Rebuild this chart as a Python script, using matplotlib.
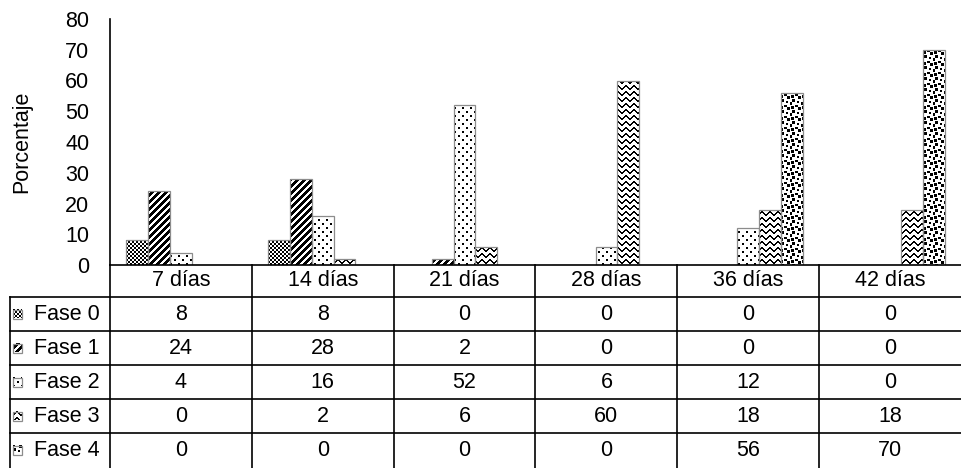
import matplotlib
matplotlib.use("Agg")
import matplotlib.pyplot as plt
import numpy as np
from matplotlib.path import Path
from matplotlib.patches import Rectangle

plt.rcParams.update({"font.family": ["Liberation Sans", "DejaVu Sans"], "font.size": 15.5})

categories = ["7 días", "14 días", "21 días", "28 días", "36 días", "42 días"]
series = ["Fase 0", "Fase 1", "Fase 2", "Fase 3", "Fase 4"]
fase0 = [8, 8, 0, 0, 0, 0]
fase1 = [24, 28, 2, 0, 0, 0]
fase2 = [4, 16, 52, 6, 12, 0]
fase3 = [0, 2, 6, 60, 18, 18]
fase4 = [0, 0, 0, 0, 56, 70]
values = [fase0, fase1, fase2, fase3, fase4]
yticks = list(range(0, 81, 10))


def tile(rows, scale=1.0):
    t = np.array([[int(c) for c in r] for r in rows], dtype=float)
    if scale != 1.0:
        iy = (np.arange(int(round(t.shape[0] * scale))) / scale).astype(int)
        ix = (np.arange(int(round(t.shape[1] * scale))) / scale).astype(int)
        t = t[np.ix_(iy, ix)]
    return t


# Excel-like pattern fills, one tile per series (1 = black pixel)
TILES = [
    tile(["1100", "1100", "0011", "0011"]),                       # small checkerboard
    tile(["0001111", "0011110", "0111100", "1111000",
          "1110001", "1100011", "1000111"]),                      # wide upward diagonal
    tile(["11000000", "11000000", "00000000", "00000000",
          "00001100", "00001100", "00000000", "00000000"]),       # dotted
    tile(["00011000", "00111100", "01100110", "11000011",
          "10000001", "00000000"]),                               # zigzag
    tile(["10001101", "00001100", "11000000", "11011000",
          "00011011", "00000011", "00110000", "10110001"], 1.4),  # large confetti
]

W, H, DPI = 961, 468, 100
AX_L, AX_R, AX_T, AX_B = 110, 961, 19, 265
EDGE = "#8c8c8c"

fig = plt.figure(figsize=(W / DPI, H / DPI), dpi=DPI)
fig.patch.set_facecolor("white")
ax = fig.add_axes([AX_L / W, 1 - AX_B / H, (AX_R - AX_L) / W, (AX_B - AX_T) / H])
ax.set_facecolor("white")

n = len(series)
bw = 1 / (n + 1.5)
x = np.arange(len(categories))
containers = []
for k, vals in enumerate(values):
    containers.append(ax.bar(x + (k - (n - 1) / 2) * bw, vals, bw, facecolor="none",
                             edgecolor=EDGE, linewidth=0.9, zorder=3))

xlim, ylim = (-0.5, len(categories) - 0.5), (0, 80)
axw, axh = AX_R - AX_L, AX_B - AX_T
for k, cont in enumerate(containers):
    t = TILES[k]
    img = np.tile(t, (axh // t.shape[0] + 1, axw // t.shape[1] + 1))[:axh, :axw]
    clip = Path.make_compound_path(*[r.get_path().transformed(r.get_patch_transform()) for r in cont])
    im = ax.imshow(img, cmap="gray_r", vmin=0, vmax=1, extent=(*xlim, *ylim), aspect="auto",
                   interpolation="nearest", zorder=2)
    im.set_clip_path(clip, transform=ax.transData)

ax.set_xlim(*xlim)
ax.set_ylim(*ylim)
ax.set_yticks(yticks)
ax.set_xticks([])
ax.tick_params(axis="y", length=0, pad=15, labelsize=15.5)
for s in ("top", "right"):
    ax.spines[s].set_visible(False)
for s in ("left", "bottom"):
    ax.spines[s].set_color("black")
    ax.spines[s].set_linewidth(1.2)
    ax.spines[s].set_zorder(5)
fig.text(22 / W, 1 - (AX_T + AX_B) / 2 / H, "Porcentaje", rotation=90, ha="center", va="center")

# --- data table below the plot, drawn in pixel coordinates ---------------------------
tb = fig.add_axes([0, 0, 1, 1], facecolor="none")
tb.set_xlim(0, W)
tb.set_ylim(H, 0)
tb.axis("off")

edges = [ax.transData.transform((i - 0.5, 0))[0] for i in range(len(categories) + 1)]
centers = [(a + b) / 2 for a, b in zip(edges[:-1], edges[1:])]
HEAD_B, ROW_H, LEG_L = 297, 34, 10
row_tops = [HEAD_B + i * ROW_H for i in range(n)]
lw = 1.2
for e in edges[1:-1]:
    tb.plot([e, e], [AX_B, H], color="black", lw=lw)
tb.plot([AX_L, AX_L], [AX_B, H], color="black", lw=lw)
tb.plot([LEG_L, LEG_L], [HEAD_B, H], color="black", lw=lw)
for yt in row_tops:
    tb.plot([LEG_L, W], [yt, yt], color="black", lw=lw)

for c, lab in zip(centers, categories):
    tb.text(c, (AX_B + HEAD_B) / 2, lab, ha="center", va="center")

for k, (name, vals) in enumerate(zip(series, values)):
    yc = row_tops[k] + ROW_H / 2
    t = TILES[k]
    key = np.tile(t, (3, 3))[:9, :9]
    tb.imshow(key, cmap="gray_r", vmin=0, vmax=1, extent=(13, 22, yc + 4.5, yc - 4.5),
              aspect="auto", interpolation="nearest", zorder=2)
    tb.add_patch(Rectangle((13, yc - 4.5), 9, 9, facecolor="none", edgecolor=EDGE, lw=0.9, zorder=3))
    tb.text(34, yc, name, ha="left", va="center")
    for c, v in zip(centers, vals):
        tb.text(c, yc, f"{v}", ha="center", va="center")
tb.set_xlim(0, W)
tb.set_ylim(H, 0)

fig.savefig("out.png", dpi=DPI)
